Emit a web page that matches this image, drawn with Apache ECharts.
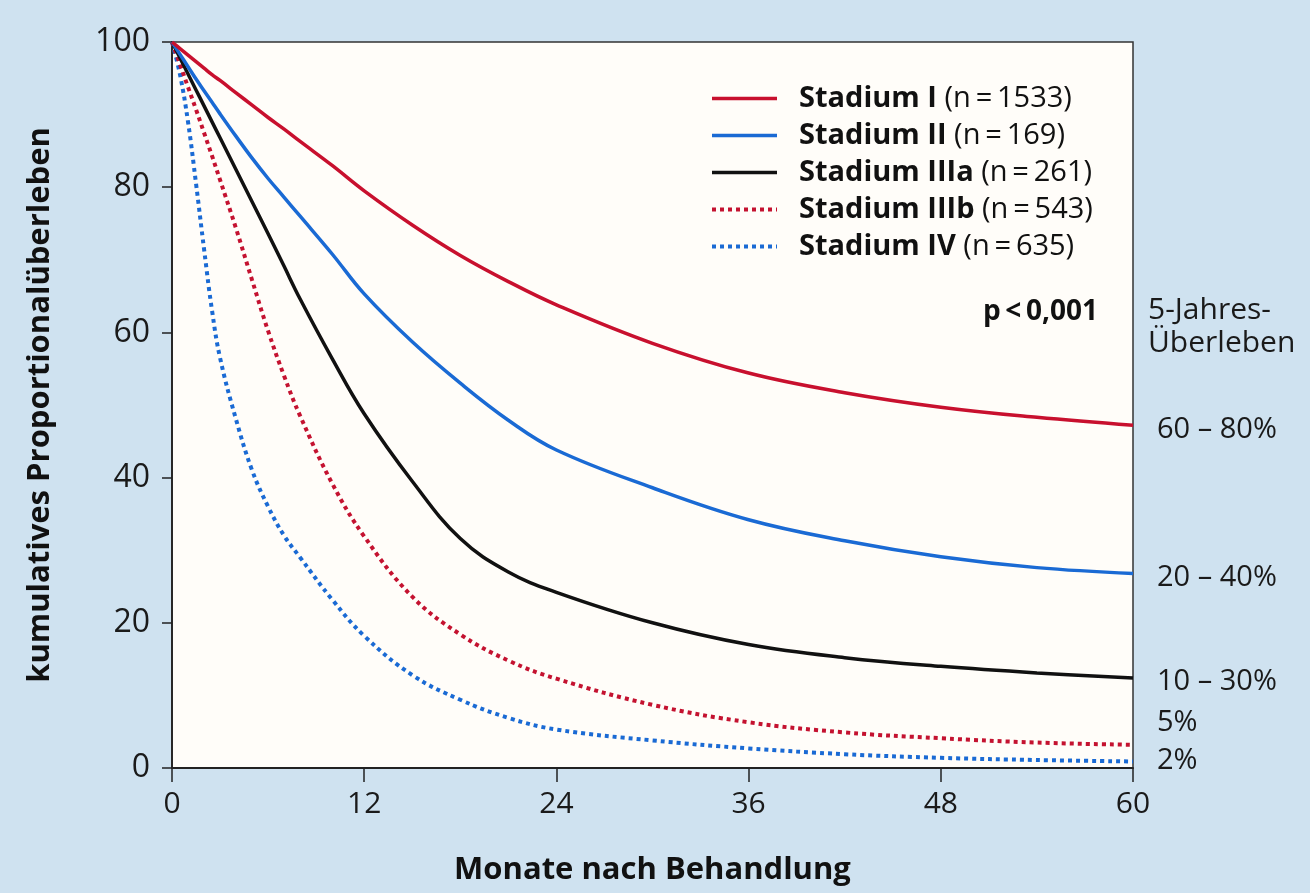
<!DOCTYPE html>
<html>
<head>
<meta charset="utf-8">
<script src="https://cdn.jsdelivr.net/npm/echarts@6/dist/echarts.min.js"></script>
<style>
html,body{margin:0;padding:0;background:#cfe2f0;}
#chart{width:1310px;height:893px;}
</style>
</head>
<body>
<div id="chart"></div>
<script>
// ---- data ----
const months = [0, 0.5, 1, 1.5, 2, 2.5, 3, 4, 5, 6, 7, 8, 10, 12, 15, 18, 21, 24, 30, 36, 42, 48, 54, 60];
const stadiumI    = [100, 99.1, 98.2, 97.3, 96.4, 95.5, 94.7, 93.0, 91.3, 89.6, 88.0, 86.3, 83.0, 79.5, 74.8, 70.6, 67.0, 63.8, 58.5, 54.4, 51.7, 49.7, 48.3, 47.2];
const stadiumII   = [100, 98.3, 96.6, 94.9, 93.3, 91.7, 90.1, 87.0, 84.0, 81.2, 78.6, 76.0, 70.8, 65.3, 58.7, 53.0, 47.9, 43.8, 38.6, 34.2, 31.3, 29.1, 27.6, 26.8];
const stadiumIIIa = [100, 97.8, 95.6, 93.4, 91.2, 89.0, 86.8, 82.4, 78.0, 73.6, 69.1, 64.6, 56.4, 48.8, 39.5, 31.6, 27.0, 24.2, 20.0, 17.0, 15.2, 14.0, 13.1, 12.4];
const stadiumIIIb = [100, 96.9, 93.8, 90.7, 87.5, 84.3, 81.0, 74.3, 67.2, 60.2, 54.0, 48.5, 39.2, 31.9, 23.6, 18.4, 14.8, 12.3, 8.7, 6.3, 4.9, 4.1, 3.5, 3.2];
const stadiumIV   = [100, 95.5, 89.0, 80.5, 71.5, 63.0, 56.5, 48.0, 41.0, 36.0, 32.0, 29.0, 23.2, 18.2, 12.8, 9.4, 6.9, 5.3, 3.8, 2.7, 1.9, 1.4, 1.1, 0.9];

const seriesNames = ['Stadium I', 'Stadium II', 'Stadium IIIa', 'Stadium IIIb', 'Stadium IV'];
const counts = [1533, 169, 261, 543, 635];
const fiveYearHeader = ['5-Jahres-', 'Überleben'];
const fiveYearLabels = ['60 – 80%', '20 – 40%', '10 – 30%', '5%', '2%'];
const xTicks = [0, 12, 24, 36, 48, 60];
const yTicks = [0, 20, 40, 60, 80, 100];
const pText = 'p\u2009<\u20090,001';

// ---- styling ----
const FONT = '"Open Sans", "Noto Sans", sans-serif';
const colors = ['#c8102e', '#1a6ad4', '#111111', '#c41230', '#1a6ad4'];
const types = ['solid', 'solid', 'solid', 'dotted', 'dotted'];
const widths = [3.5, 3.5, 3.5, 4, 4];
const allValues = [stadiumI, stadiumII, stadiumIIIa, stadiumIIIb, stadiumIV];

const series = seriesNames.map((name, i) => ({
  name: name,
  type: 'line',
  data: months.map((m, j) => [m, allValues[i][j]]),
  symbol: 'none',
  showSymbol: false,
  smooth: 0.4,
  color: colors[i],
  lineStyle: { color: colors[i], width: widths[i], type: types[i] },
  z: 5 - i
}));

const chart = echarts.init(document.getElementById('chart'));
const rightYs = [430, 578, 682, 723, 761];

chart.setOption({
  backgroundColor: '#cfe2f0',
  animation: false,
  grid: {
    left: 172, right: 177, top: 42, bottom: 125,
    show: true, backgroundColor: '#fffdf9', borderColor: '#333', borderWidth: 1.5
  },
  legend: {
    orient: 'vertical',
    left: 705, top: 79,
    itemWidth: 65, itemHeight: 14, itemGap: 8,
    data: seriesNames.map((n, i) => ({
      name: n,
      itemStyle: { opacity: 0 },
      lineStyle: { color: colors[i], width: widths[i], type: types[i] }
    })),
    formatter: function (name) {
      const k = seriesNames.indexOf(name);
      return '{b|' + name + '}{n| (n\u2009=\u2009' + counts[k] + ')}';
    },
    textStyle: {
      color: '#111',
      rich: {
        b: { fontFamily: FONT, fontWeight: 'bold', fontSize: 29, color: '#111', padding: [0, 0, 0, 17], lineHeight: 32 },
        n: { fontFamily: FONT, fontSize: 29, color: '#111', lineHeight: 32 }
      }
    }
  },
  xAxis: {
    type: 'value', min: 0, max: 60, interval: 12,
    name: 'Monate nach Behandlung', nameLocation: 'middle', nameGap: 87,
    nameTextStyle: { fontFamily: FONT, fontWeight: 'bold', fontSize: 31, color: '#111' },
    axisLine: { show: true, lineStyle: { color: '#222', width: 1.8 } },
    axisTick: { show: true, length: 14, inside: false, lineStyle: { color: '#222', width: 1.5 } },
    axisLabel: { fontFamily: FONT, fontSize: 30, color: '#1a1a1a', margin: 21,
      formatter: v => xTicks.includes(v) ? String(v) : '' },
    splitLine: { show: false }
  },
  yAxis: {
    type: 'value', min: 0, max: 100, interval: 20,
    name: 'kumulatives Proportionalüberleben', nameLocation: 'middle', nameGap: 116, nameRotate: 90,
    nameTextStyle: { fontFamily: FONT, fontWeight: 'bold', fontSize: 31, color: '#111' },
    axisLine: { show: true, lineStyle: { color: '#222', width: 1.8 } },
    axisTick: { show: true, length: 10, inside: false, lineStyle: { color: '#222', width: 1.5 } },
    axisLabel: { fontFamily: FONT, fontSize: 32, color: '#1a1a1a', margin: 22,
      formatter: v => yTicks.includes(v) ? String(v) : '' },
    splitLine: { show: false }
  },
  graphic: [
    { type: 'text', x: 1098, y: 312, style: { text: pText, font: 'bold 28px ' + FONT, fill: '#111', textAlign: 'right', textVerticalAlign: 'middle' } },
    { type: 'text', x: 1148, y: 294, style: { text: fiveYearHeader.join('\n'), font: '30px ' + FONT, fill: '#1a1a1a', lineHeight: 33, textVerticalAlign: 'top' } }
  ].concat(fiveYearLabels.map((t, i) => ({
    type: 'text', x: 1157, y: rightYs[i],
    style: { text: t, font: '29px ' + FONT, fill: '#1a1a1a', textVerticalAlign: 'middle' }
  }))),
  series: series
});
</script>
</body>
</html>
